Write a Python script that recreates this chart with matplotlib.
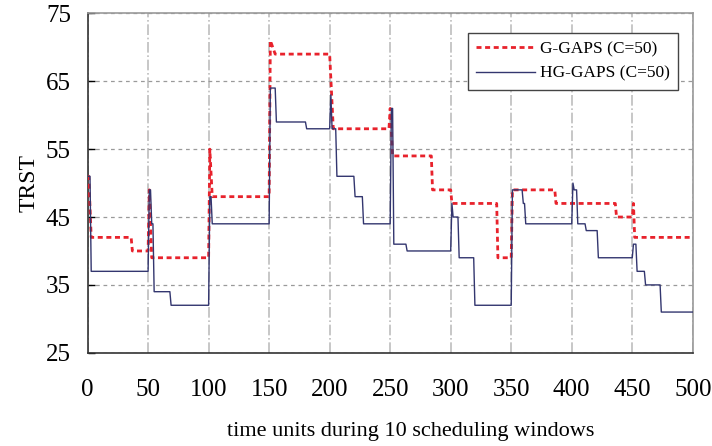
import numpy as np
from matplotlib import pyplot as plt

# polyline vertices (time, TRST)
g_time = [0, 1, 3, 36, 37, 50, 51, 53, 100, 101, 103, 150, 151, 153, 155, 200, 203,
          249, 250, 252, 284, 285, 300, 301, 338, 339, 350, 351, 386, 387, 436, 437,
          450, 451, 452, 500]
g_trst = [51, 51, 42, 42, 40, 40, 49, 39, 39, 55, 48, 48, 71, 70, 69, 69, 58,
          58, 61, 54, 54, 49, 49, 47, 47, 39, 39, 49, 49, 47, 47, 45,
          45, 47, 42, 42]

hg_time = [0, 2, 3, 50, 51, 52, 53, 54, 55, 68, 69, 100, 101, 102, 103, 150, 151, 155,
           156, 180, 181, 200, 201, 202, 205, 206, 220, 221, 227, 228, 250, 251, 252,
           253, 263, 264, 300, 301, 302, 306, 307, 319, 320, 350, 351, 359, 360, 361,
           362, 400, 401, 402, 404, 405, 411, 412, 421, 422, 450, 451, 453, 454, 460,
           461, 473, 474, 500]
hg_trst = [51, 51, 37, 37, 49, 49, 44, 44, 34, 34, 32, 32, 48, 48, 44, 44, 64, 64,
           59, 59, 58, 58, 63, 58, 58, 51, 51, 48, 48, 44, 44, 61, 61,
           41, 41, 40, 40, 47, 45, 45, 39, 39, 32, 32, 49, 49, 47, 47,
           44, 44, 50, 49, 49, 44, 44, 43, 43, 39, 39, 41, 41, 37, 37,
           35, 35, 31, 31]

x_ticks = np.arange(0, 501, 50)
y_ticks = np.arange(25, 76, 10)

plt.rcParams['font.family'] = ['Liberation Serif', 'DejaVu Serif']

fig = plt.figure(figsize=(7.12, 4.46), dpi=100)
ax = fig.add_subplot(1, 1, 1)
fig.subplots_adjust(left=0.123, right=0.973, top=0.970, bottom=0.209)

ax.plot(g_time, g_trst, color='#e8222c', linewidth=2.0, linestyle=(0, (1.8, 1.3)),
        label='G-GAPS (C=50)', zorder=3)
ax.plot(hg_time, hg_trst, color='#33366f', linewidth=1.0,
        label='HG-GAPS (C=50)', zorder=4)

ax.set_xlim(0, 500)
ax.set_ylim(25, 75)
ax.set_xticks(x_ticks)
ax.set_yticks(y_ticks)

ax.xaxis.grid(True, color='#bdbdbd', linestyle='-.', linewidth=1.2)
ax.yaxis.grid(True, color='#9a9a9a', linestyle=(0, (3, 3)), linewidth=0.9)

ax.tick_params(axis='x', length=0, pad=19, labelsize=18)
ax.tick_params(axis='y', direction='in', length=5, width=1, pad=12, labelsize=18)

for side in ['left', 'bottom']:
    ax.spines[side].set_color('#333333')
    ax.spines[side].set_linewidth(1.2)
for side in ['top', 'right']:
    ax.spines[side].set_color('#999999')
    ax.spines[side].set_linewidth(1.2)

ax.set_xlabel('time units during 10 scheduling windows', fontsize=16)
ax.xaxis.set_label_coords(0.534, -0.205)
ax.set_ylabel('TRST', fontsize=17)
ax.yaxis.set_label_coords(-0.08, 0.5)

leg = ax.legend(loc='upper right', bbox_to_anchor=(0.975, 0.942), fontsize=12.5,
                fancybox=False, framealpha=1, edgecolor='#444444',
                handlelength=3.4, handletextpad=0.3, borderpad=0.45,
                labelspacing=0.5, borderaxespad=0)
leg.get_frame().set_linewidth(1.0)

fig.savefig('out.png', dpi=100)
